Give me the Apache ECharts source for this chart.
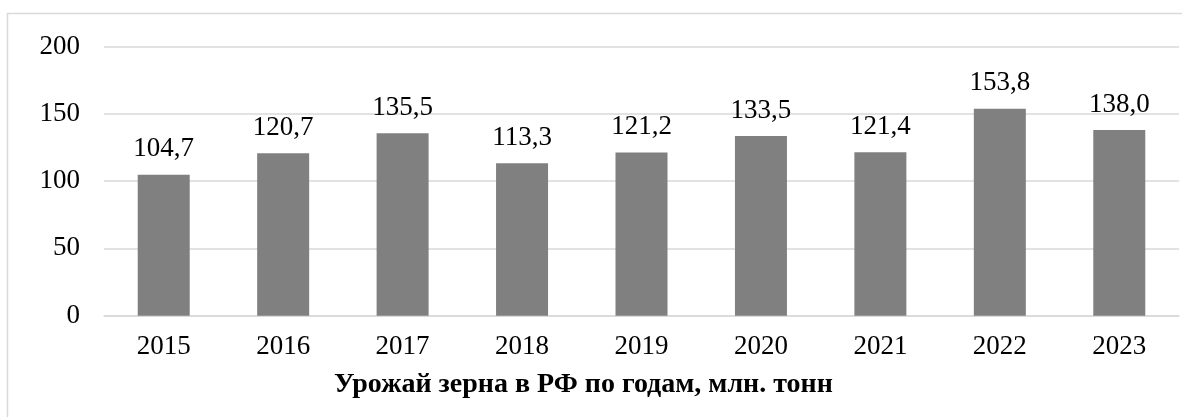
<!DOCTYPE html>
<html>
<head>
<meta charset="utf-8">
<script src="https://cdn.jsdelivr.net/npm/echarts@6/dist/echarts.min.js"></script>
<style>
  html, body { margin: 0; padding: 0; background: #fff; }
  #chart { width: 1182px; height: 417px; }
</style>
</head>
<body>
<div id="chart"></div>
<script>
// урожай зерна, млн. тонн
const years = ["2015", "2016", "2017", "2018", "2019", "2020", "2021", "2022", "2023"];
const harvest = [104.7, 120.7, 135.5, 113.3, 121.2, 133.5, 121.4, 153.8, 138.0];
const yTicks = [0, 50, 100, 150, 200];

const serif = '"Liberation Serif", "Times New Roman", serif';

const chart = echarts.init(document.getElementById("chart"));
chart.setOption({
  animation: false,
  title: {
    text: "Урожай зерна в РФ по годам, млн. тонн",
    left: 334,
    top: 371,
    padding: 0,
    textStyle: { fontFamily: serif, fontSize: 28, fontWeight: "bold", color: "#000" }
  },
  graphic: [
    {
      type: "rect",
      shape: { x: 7.5, y: 13.5, width: 1200, height: 430 },
      style: { fill: "none", stroke: "#d9d9d9", lineWidth: 1.5 },
      silent: true
    }
  ],
  grid: { left: 104, right: 3, top: 46.5, bottom: 101.3 },
  xAxis: {
    type: "category",
    data: years,
    axisLine: { lineStyle: { color: "#d9d9d9", width: 1.5 } },
    axisTick: { show: false },
    axisLabel: { fontFamily: serif, fontSize: 27, color: "#000", margin: 18 }
  },
  yAxis: {
    type: "value",
    min: yTicks[0],
    max: yTicks[yTicks.length - 1],
    interval: 50,
    axisLine: { show: false },
    axisTick: { show: false },
    splitLine: { lineStyle: { color: "#d9d9d9", width: 1.5 } },
    axisLabel: { fontFamily: serif, fontSize: 27, color: "#000", margin: 24 }
  },
  series: [
    {
      type: "bar",
      data: harvest,
      barWidth: 52,
      itemStyle: { color: "#808080" },
      label: {
        show: true,
        position: "top",
        distance: 12,
        fontFamily: serif,
        fontSize: 27,
        color: "#000",
        formatter: p => p.value.toFixed(1).replace(".", ",")
      }
    }
  ]
});
</script>
</body>
</html>
